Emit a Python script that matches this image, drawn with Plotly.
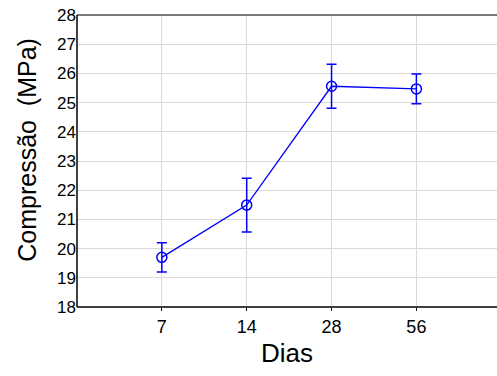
import plotly.graph_objects as go

dias = ["7", "14", "28", "56"]
compressao = [19.70, 21.49, 25.56, 25.47]
erro = [0.50, 0.92, 0.75, 0.51]
y_ticks = list(range(18, 29))

xpos = [1, 2, 3, 4]

fig = go.Figure()
fig.add_trace(go.Scatter(
    x=xpos, y=compressao,
    mode="lines+markers",
    line=dict(color="#0000ff", width=1.3),
    marker=dict(symbol="circle-open", size=10, color="#0000ff", line=dict(width=1.5)),
    error_y=dict(type="data", array=erro, visible=True, color="#0000ff", thickness=1.5, width=5),
    showlegend=False,
))

fig.update_layout(
    width=497, height=376,
    margin=dict(l=77, r=0, t=15, b=69),
    paper_bgcolor="white", plot_bgcolor="white",
    font=dict(family="Liberation Sans, Arial", color="black"),
    xaxis=dict(
        range=[0, 4.95], tickvals=xpos, ticktext=dias,
        showgrid=True, gridcolor="#d9d9d9", gridwidth=1,
        showline=False,
        ticks="outside", ticklen=3, tickcolor="black",
        tickfont=dict(size=18), zeroline=False, automargin=False,
        title=dict(text="Dias", font=dict(size=26), standoff=8),
    ),
    yaxis=dict(
        range=[18, 28], tickvals=y_ticks,
        showgrid=True, gridcolor="#d9d9d9", gridwidth=1,
        showline=False,
        ticks="", tickfont=dict(size=17), zeroline=False, automargin=False,
    ),
    shapes=[
        dict(type="line", xref="paper", yref="paper", x0=0, x1=1.02, y0=1, y1=1,
             line=dict(color="#7a7a7a", width=2)),
        dict(type="line", xref="paper", yref="paper", x0=0, x1=1.02, y0=0, y1=0,
             line=dict(color="black", width=1.5)),
        dict(type="line", xref="paper", yref="paper", x0=0, x1=0, y0=0, y1=1,
             line=dict(color="black", width=1.5)),
    ],
    annotations=[dict(text="Compressão  (MPa)", textangle=-90, xref="paper", yref="paper",
                      x=-0.118, y=0.54, xanchor="center", yanchor="middle",
                      showarrow=False, font=dict(size=25))],
)

fig.write_html("out.html", config={"displayModeBar": False},
               post_script="document.body.style.margin='0';document.documentElement.style.overflow='hidden';document.body.style.overflow='hidden';")
